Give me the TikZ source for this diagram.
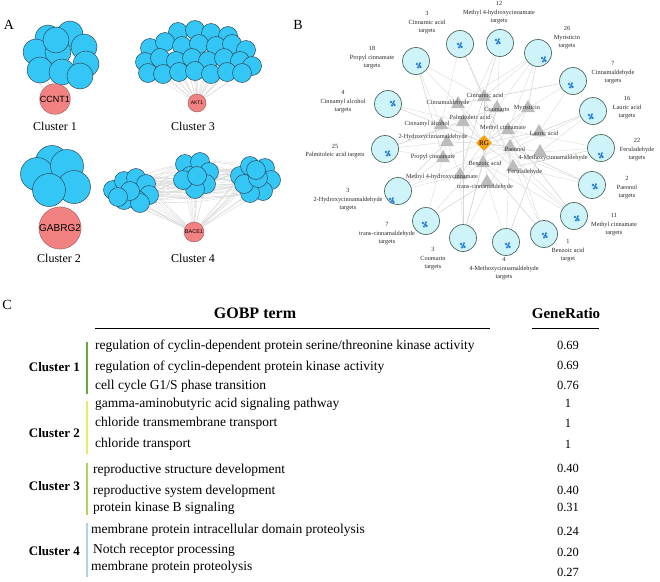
\documentclass[tikz,border=0pt]{standalone}
\usepackage{fontspec}
\setmainfont{Liberation Serif}
\setsansfont{Liberation Sans}
\usetikzlibrary{shapes.geometric, backgrounds, positioning}
\definecolor{genefill}{RGB}{52,198,245}
\definecolor{genedraw}{RGB}{45,75,95}
\definecolor{hubfill}{RGB}{242,130,130}
\definecolor{hubdraw}{RGB}{150,90,90}
\definecolor{linkgray}{RGB}{214,214,214}
\definecolor{tgtfill}{RGB}{206,243,248}
\definecolor{tgtdraw}{RGB}{78,108,94}
\definecolor{dotblue}{RGB}{38,128,218}
\definecolor{herbgray}{RGB}{188,188,188}
\definecolor{rgorange}{RGB}{246,160,10}
\definecolor{barone}{RGB}{106,168,62}
\definecolor{bartwo}{RGB}{238,232,104}
\definecolor{barthree}{RGB}{178,210,86}
\definecolor{barfour}{RGB}{178,210,236}

\begin{document}
\begin{tikzpicture}[x=1pt, y=-1pt, inner sep=0pt]
    \tikzstyle{gene}=[circle, draw=genedraw, fill=genefill, line width=0.5pt, inner sep=0pt]
    \tikzstyle{hub}=[circle, draw=hubdraw, fill=hubfill, line width=0.4pt, inner sep=0pt]
    \tikzstyle{link}=[draw=linkgray, line width=0.35pt]
    \tikzstyle{tgt}=[circle, draw=tgtdraw, fill=tgtfill, line width=0.7pt, minimum size=27pt, inner sep=0pt]
    \tikzstyle{herb}=[regular polygon, regular polygon sides=3, fill=herbgray, minimum size=16pt, inner sep=0pt]
    \tikzstyle{clab}=[font=\fontsize{6.3}{8.5}\selectfont, text=black!80]
    \tikzstyle{tlab}=[font=\fontsize{6.3}{8.5}\selectfont, align=center, text=black!85]
    \tikzstyle{panel}=[font=\fontsize{14}{16}\selectfont]
    \tikzstyle{clname}=[font=\fontsize{12}{14}\selectfont]
    \tikzstyle{goterm}=[anchor=west, font=\fontsize{13.5}{15}\selectfont]
    \tikzstyle{grval}=[font=\fontsize{12.5}{14}\selectfont]
    \tikzstyle{clbold}=[anchor=east, font=\bfseries\fontsize{13}{15}\selectfont]
    \tikzstyle{clbar}=[line width=2.5pt]

    \useasboundingbox (0,0) rectangle (660,581);

    %% Panel A
    \node[panel] (A) at (9,25) {A};

    % Cluster 1
    \foreach \x/\y [count=\i] in {48/38, 70/34, 84/47, 36/52, 58/52, 86/64, 40/70, 62/72, 80/76, 56/40}
        \node[gene, minimum size=26pt] (a\i) at (\x,\y) {};
    \node[hub, minimum size=28pt, font=\sffamily\fontsize{9}{10}\selectfont] (ccnt) at (55,99) {CCNT1};
    \node[clname] (cl1) at (55,126) {Cluster 1};

    % Cluster 3
    \foreach \x/\y [count=\i] in {178/32, 195/30, 211/33, 228/36, 150/48, 165/42, 182/46, 199/44, 216/46, 232/44, 246/50,
        145/62, 160/58, 176/61, 192/58, 208/61, 224/58, 240/61, 252/66, 148/73, 163/74, 179/72, 195/71, 211/74, 227/72, 242/73}
        \node[gene, minimum size=19pt] (c\i) at (\x,\y) {};
    \node[hub, minimum size=18pt, font=\sffamily\fontsize{5}{6}\selectfont] (akt) at (197,103) {AKT1};
    \node[clname] (cl3) at (193,126) {Cluster 3};

    % Cluster 2
    \foreach \x/\y [count=\i] in {52/162, 37/174, 67/166, 74/187, 49/190}
        \node[gene, minimum size=33pt] (b\i) at (\x,\y) {};
    \node[hub, minimum size=33pt, font=\sffamily\fontsize{10}{11}\selectfont] (gab) at (60,228) {GABRG2};
    \node[clname] (cl2) at (59,258) {Cluster 2};

    % Cluster 4
    \foreach \x/\y [count=\i] in {113/190, 124/181, 136/178, 146/184, 149/195, 137/200, 124/200, 140/203, 130/191, 118/197}
        \node[gene, minimum size=19pt] (l\i) at (\x,\y) {};
    \foreach \x/\y [count=\i] in {185/164, 200/162, 209/172, 190/176, 206/184, 195/189, 183/180, 197/176}
        \node[gene, minimum size=19pt] (m\i) at (\x,\y) {};
    \foreach \x/\y [count=\i] in {240/176, 250/166, 265/168, 271/180, 263/191, 250/193, 244/184, 258/178, 256/170}
        \node[gene, minimum size=19pt] (r\i) at (\x,\y) {};
    \node[hub, minimum size=20pt, font=\sffamily\fontsize{5.5}{6}\selectfont] (bace) at (194,232) {BACE1};
    \node[clname] (cl4) at (193,258) {Cluster 4};

    \begin{scope}[on background layer]
        \foreach \i in {1,...,10} \draw[link] (ccnt) to[bend left=25] (a\i);
        \foreach \i in {1,...,26} \draw[link] (akt) -- (c\i);
        \foreach \i in {1,...,5} \draw[link] (gab) to[bend right=30] (b\i);
        \foreach \i in {1,...,10} \draw[link] (bace) -- (l\i);
        \foreach \i in {1,...,8} \draw[link] (bace) -- (m\i);
        \foreach \i in {1,...,9} \draw[link] (bace) -- (r\i);
        \foreach \i in {1,3,5,7,9} {
            \foreach \j in {1,3,5,7} \draw[link] (l\i) to[bend left=6] (m\j);
            \foreach \j in {2,4,6,8} \draw[link] (l\i) to[bend right=8] (r\j);
        }
        \foreach \i in {2,4,6,8} \foreach \j in {1,3,5,7,9} \draw[link] (m\i) to[bend left=6] (r\j);
    \end{scope}

    %% Panel B
    \node[panel] (B) at (298,25) {B};

    \node[diamond, fill=rgorange, minimum size=16pt, font=\fontsize{7}{8}\selectfont] (rg) at (484,143) {RG};

    % compounds
    \foreach \n/\x/\y in {cnm/458/104, cin/484/97, cou/497/108, myr/528/108, pal/463/122, cal/441/125, mci/508/130, lau/539/132,
        hyd/447/142, pae/510/147, mox/540/152, pro/443/158, ben/483/163, fer/513/167, mhc/460/175, tra/487/182}
        \node[herb] (\n) at (\x,\y) {};
    \foreach \n/\x/\y/\t in {cnm/448/103/Cinnamaldehyde, cin/485/95/Cinnamic acid, cou/497/109/Coumarin, myr/527/108/Myristicin,
        pal/470/117/Palmitoleic acid, cal/427/124/Cinnamyl alcohol, mci/503/128/Methyl cinnamate, lau/544/133/Lauric acid,
        hyd/433/137/2-Hydroxycinnamaldehyde, pae/515/149/Paeonol, mox/553/158/4-Methoxycinnamaldehyde, pro/433/157/Propyl cinnamate,
        ben/485/163/Benzoic acid, fer/525/172/Feruladehyde, mhc/442/177/Methyl 4-hydroxycinnamate, tra/485/187/trans-cinnamaldehyde}
        \node[clab] (\n-l) at (\x,\y) {\t};

    % targets
    \foreach \n/\x/\y in {propt/416/61, cinat/460/44, mhct/500/43, myrt/538/53, cnmt/573/81, laut/593/111, calt/388/104, palt/385/149,
        fert/601/148, hydt/398/191, paet/592/185, trat/426/221, mcit/574/216, cout/463/238, moxt/506/242, bent/544/234}
        \node[tgt] (\n) at (\x,\y) {};
    \foreach \n/\dx/\dy in {propt/1/3, cinat/-2/0, mhct/-4/-3, myrt/4/5, cnmt/-4/3, laut/-4/4, calt/3/-2, palt/1/3,
        fert/-2/6, hydt/-8/8, paet/1/0, trat/-3/2, mcit/1/1, cout/-2/6, moxt/0/2, bent/-1/0}
        \fill[dotblue] (\n) ++(\dx,\dy) circle (1.3) ++(2.2,1.4) circle (1.3) ++(-1.2,2) circle (1.3) ++(2.6,-0.4) circle (1.2)
            ++(-0.6,-3.8) circle (1.1);

    \node[tlab] (propt-l) at (372,58) {18\\Propyl cinnamate\\targets};
    \node[tlab] (cinat-l) at (427,23) {3\\Cinnamic acid\\targets};
    \node[tlab] (mhct-l) at (499,13) {12\\Methyl 4-hydroxycinnamate\\targets};
    \node[tlab] (myrt-l) at (567,38) {26\\Myristicin\\targets};
    \node[tlab] (cnmt-l) at (613,73) {7\\Cinnamaldehyde\\targets};
    \node[tlab] (laut-l) at (627,108) {16\\Lauric acid\\targets};
    \node[tlab] (calt-l) at (343,102) {4\\Cinnamyl alcohol\\targets};
    \node[tlab] (palt-l) at (335,151) {25\\Palmitoleic acid targets};
    \node[tlab] (fert-l) at (637,150) {22\\Feruladehyde\\targets};
    \node[tlab] (hydt-l) at (348,200) {3\\2-Hydroxycinnamaldehyde\\targets};
    \node[tlab] (paet-l) at (627,188) {2\\Paeonol\\targets};
    \node[tlab] (trat-l) at (387,234) {7\\trans-cinnamaldehyde\\targets};
    \node[tlab] (mcit-l) at (614,225) {11\\Methyl cinnamate\\targets};
    \node[tlab] (cout-l) at (433,259) {3\\Coumarin\\targets};
    \node[tlab] (moxt-l) at (504,269) {4\\4-Methoxycinnamaldehyde\\targets};
    \node[tlab] (bent-l) at (568,251) {1\\Benzoic acid\\target};

    \begin{scope}[on background layer]
        \foreach \n in {cnm,cin,cou,myr,pal,cal,mci,lau,hyd,pae,mox,pro,ben,fer,mhc,tra}
            \draw[link, line width=0.5pt] (rg) -- (\n);
        \foreach \c/\t in {cnm/cnmt, cin/cinat, cou/cout, myr/myrt, pal/palt, cal/calt, mci/mcit, lau/laut,
            hyd/hydt, pae/paet, mox/moxt, pro/propt, ben/bent, fer/fert, mhc/mhct, tra/trat}
            \draw[link, line width=0.6pt] (\c) -- (\t);
        \foreach \c/\t in {cnm/propt, cnm/myrt, cin/propt, cin/myrt, cou/mhct, cou/myrt, myr/cnmt, pal/calt, pal/mhct,
            cal/cinat, mci/myrt, mci/bent, lau/cnmt, hyd/palt, hyd/trat, pae/moxt, mox/laut, mox/fert, pro/palt,
            pro/hydt, ben/mcit, ben/cout, fer/paet, fer/mcit, mhc/hydt, mhc/cout, tra/moxt, myr/trat, cin/bent,
            cnm/mcit, pal/cout, lau/hydt, cou/palt, mci/fert, cal/paet, myr/cout, mhc/propt, fer/cinat, ben/laut}
            \draw[link] (\c) -- (\t);
    \end{scope}

    %% Panel C
    \node[panel] (C) at (7,305) {C};
    \node[font=\bfseries\fontsize{16}{18}\selectfont] (gobp) at (255,313) {GOBP term};
    \node[font=\bfseries\fontsize{15}{17}\selectfont] (gr) at (566,313) {GeneRatio};
    \draw[line width=0.9pt] (95,328) -- (490,328);
    \draw[line width=0.9pt] (532,328) -- (599,328);

    % Cluster 1
    \draw[clbar, barone] (87,342) -- (87,394);
    \node[clbold] (k1) at (80,367) {Cluster 1};
    \node[goterm] (t1) at (95,346) {regulation of cyclin-dependent protein serine/threonine kinase activity};
    \node[goterm] (t2) at (95,367) {regulation of cyclin-dependent protein kinase activity};
    \node[goterm] (t3) at (95,386) {cell cycle G1/S phase transition};
    \node[grval] (v1) at (568,345) {0.69};
    \node[grval] (v2) at (568,365) {0.69};
    \node[grval] (v3) at (568,385) {0.76};

    % Cluster 2
    \draw[clbar, bartwo] (87,401) -- (87,454);
    \node[clbold] (k2) at (80,433) {Cluster 2};
    \node[goterm] (t4) at (95,404) {gamma-aminobutyric acid signaling pathway};
    \node[goterm] (t5) at (95,423) {chloride transmembrane transport};
    \node[goterm] (t6) at (95,444) {chloride transport};
    \node[grval] (v4) at (568,403) {1};
    \node[grval] (v5) at (568,423) {1};
    \node[grval] (v6) at (568,444) {1};

    % Cluster 3
    \draw[clbar, barthree] (87,463) -- (87,515);
    \node[clbold] (k3) at (80,486) {Cluster 3};
    \node[goterm] (t7) at (93,470) {reproductive structure development};
    \node[goterm] (t8) at (93,491) {reproductive system development};
    \node[goterm] (t9) at (93,508) {protein kinase B signaling};
    \node[grval] (v7) at (568,468) {0.40};
    \node[grval] (v8) at (568,490) {0.40};
    \node[grval] (v9) at (568,507) {0.31};

    % Cluster 4
    \draw[clbar, barfour] (87,523) -- (87,577);
    \node[clbold] (k4) at (80,551) {Cluster 4};
    \node[goterm] (t10) at (91,530) {membrane protein intracellular domain proteolysis};
    \node[goterm] (t11) at (93,550) {Notch receptor processing};
    \node[goterm] (t12) at (91,567) {membrane protein proteolysis};
    \node[grval] (v10) at (568,531) {0.24};
    \node[grval] (v11) at (568,552) {0.20};
    \node[grval] (v12) at (568,572) {0.27};
\end{tikzpicture}
\end{document}
